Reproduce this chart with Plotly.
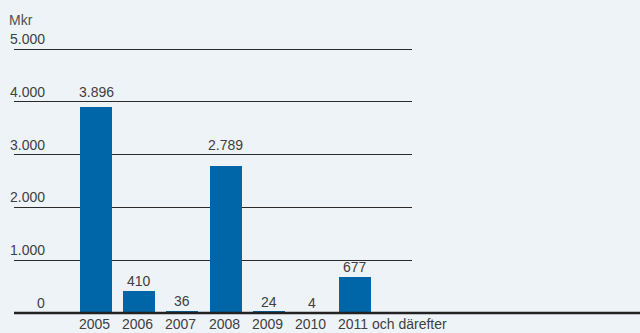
import math
import plotly.graph_objects as go

categories = ["2005", "2006", "2007", "2008", "2009", "2010", "2011 och därefter"]
values = [3896, 410, 36, 2789, 24, 4, 677]
value_labels = ["3.896", "410", "36", "2.789", "24", "4", "677"]
y_ticks = [0, 1000, 2000, 3000, 4000, 5000]
y_tick_labels = ["0", "1.000", "2.000", "3.000", "4.000", "5.000"]
unit_label = "Mkr"

BG = "#eef3f8"
BAR = "#0066a8"
TXT = "#404040"
FONT = "Liberation Sans, Arial, sans-serif"
FS = 14

W, H = 640, 333
ML, MR, MT, MB = 14, 228, 28, 20
plot_w = W - ML - MR
slot_px = 43.2
bar_px = 32
x_lo = -82 / slot_px
x_hi = x_lo + plot_w / slot_px
bar_width = bar_px / slot_px

idx = list(range(len(categories)))

fig = go.Figure()
fig.add_trace(go.Bar(
    x=idx, y=values, width=bar_width, marker=dict(color=BAR, line=dict(width=0)),
    hoverinfo="skip", showlegend=False,
))

annotations = []
# value labels, lifted above a gridline if the gridline would cross the text
for i, (v, lab) in enumerate(zip(values, value_labels)):
    nxt = math.ceil(v / 1000) * 1000
    ypos = nxt if (nxt - v) < 300 and nxt > 0 else v
    annotations.append(dict(
        x=i, y=ypos, xref="x", yref="y", text=lab, showarrow=False,
        xanchor="center", yanchor="bottom", yshift=0,
        font=dict(family=FONT, size=FS, color=TXT),
    ))
# category labels, left aligned with bar edge
for i, c in enumerate(categories):
    annotations.append(dict(
        x=i, y=0, xref="x", yref="paper", text=c, showarrow=False,
        xanchor="left", yanchor="top", xshift=-bar_px / 2 - 2, yshift=-2, borderpad=0,
        font=dict(family=FONT, size=FS, color=TXT),
    ))
# y tick labels above gridlines, right aligned
for t, lab in zip(y_ticks, y_tick_labels):
    annotations.append(dict(
        x=(47 - ML) / plot_w, y=t, xref="paper", yref="y", text=lab, showarrow=False,
        xanchor="right", yanchor="bottom", yshift=0,
        font=dict(family=FONT, size=FS, color=TXT),
    ))
annotations.append(dict(
    x=0, y=1, xref="paper", yref="paper", text=unit_label, showarrow=False,
    xanchor="left", yanchor="bottom", xshift=-7, yshift=-2,
    font=dict(family=FONT, size=FS, color="#505050"),
))

fig.update_layout(
    width=W, height=H,
    margin=dict(l=ML, r=MR, t=MT, b=MB, pad=0),
    paper_bgcolor=BG, plot_bgcolor=BG,
    bargap=0,
    xaxis=dict(range=[x_lo, x_hi], showgrid=False, zeroline=False, showline=False,
               showticklabels=False, ticks="", fixedrange=True),
    yaxis=dict(range=[0, 5400], tickvals=y_ticks[1:], showgrid=True,
               gridcolor="#2a2a2a", gridwidth=1, zeroline=False, showline=False,
               showticklabels=False, ticks="", fixedrange=True),
    annotations=annotations,
    shapes=[dict(type="line", xref="paper", yref="paper", x0=0, x1=(W - ML) / plot_w,
                 y0=0, y1=0, line=dict(color="#222222", width=2.5), layer="above")],
)

fig.write_html("out.html", config={"displayModeBar": False})
